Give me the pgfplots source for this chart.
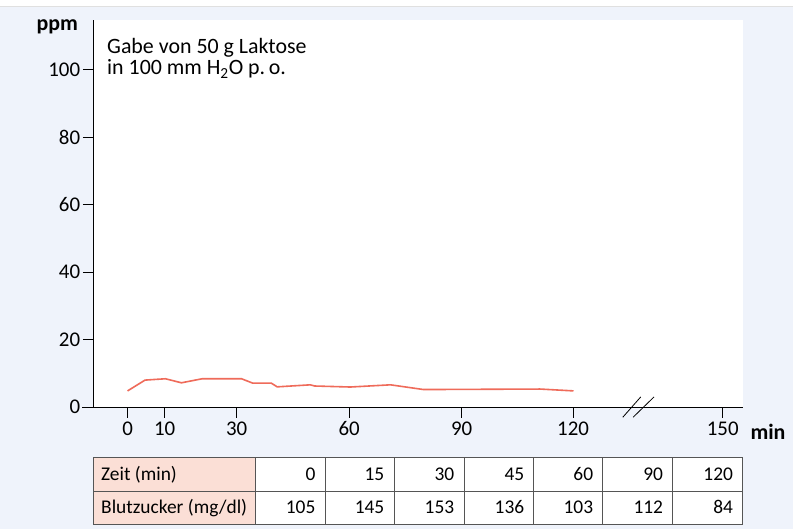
\documentclass[border=0pt]{standalone}
\usepackage{fontspec}
\setmainfont{Carlito}
\usepackage{pgfplots}
\pgfplotsset{compat=1.18}
\definecolor{bg}{HTML}{EFF3FB}
\definecolor{headpink}{HTML}{FBDFD6}
\definecolor{curve}{HTML}{EF6B5A}
\definecolor{gridc}{HTML}{555555}
\begin{document}
\begin{tikzpicture}[x=1bp,y=1bp]
\fill[white] (0,0) rectangle (793,530);
\fill[bg] (0,0) rectangle (793,523.5);
\draw[black!12, line width=0.8bp] (0,523.8) -- (793,523.8);
\begin{axis}[at={(93bp,122.5bp)}, anchor=south west, scale only axis,
  width=650bp, height=387.5bp,
  xmin=-9.23, xmax=165.66, ymin=0, ymax=114.8,
  axis background/.style={fill=white},
  axis x line*=bottom, axis y line*=left,
  x axis line style={draw=none},
  y axis line style={line width=0.9bp, black},
  xtick={0,10,29.4,59.7,90,120,160.3},
  xticklabels={0,10,30,60,90,120,150},
  ytick={0,20,40,60,80,100},
  tick align=outside, major tick length=10.5bp,
  tick style={line width=0.9bp, black},
  every tick label/.append style={font=\fontsize{21}{24}\selectfont},
  yticklabel style={inner sep=2.5bp},
  xticklabel style={inner sep=4bp},
  /pgf/number format/assume math mode=true,
  clip=false]
\addplot[curve, line width=1.6bp, mark=none] coordinates {
(0,4.8) (4.7,8.0) (10.2,8.4) (14.5,7.2) (20.1,8.4) (30.7,8.4) (33.7,7.1)
(38.7,7.1) (40.3,6.0) (49.2,6.6) (50.4,6.25) (60,5.95) (70.8,6.6)
(79.7,5.2) (111.1,5.35) (120.1,4.8)};
\end{axis}
\draw[line width=0.9bp] (81.7,122.5) -- (743,122.5);
\draw[line width=0.8bp] (623,112.3) -- (641,132.7);
\draw[line width=0.8bp] (633.3,112.3) -- (654.3,132.7);
\node[anchor=base west, inner sep=0, font=\fontsize{22}{24}\selectfont] at (106.7,476.7) {Gabe von 50 g Laktose};
\node[anchor=base west, inner sep=0, font=\fontsize{22}{24}\selectfont] at (106.7,455) {in 100 mm H\textsubscript{2}O p.\,o.};
\node[font=\bfseries\fontsize{22}{24}\selectfont, inner sep=0] at (57,503) {ppm};
\node[anchor=base west, inner sep=0, font=\bfseries\fontsize{22}{24}\selectfont] at (750.7,90) {min};
% table
\fill[headpink] (93,5) rectangle (255,72);
\fill[white] (255,5) rectangle (743,72);
\draw[gridc, line width=0.8bp] (93,5) rectangle (743,72);
\draw[gridc, line width=0.8bp] (93,38.3) -- (743,38.3);
\foreach \xx in {255,325,394,464,534,603,673} {\draw[gridc, line width=0.8bp] (\xx,5) -- (\xx,72);}
\node[anchor=base west, inner sep=0, font=\fontsize{19.5}{22}\selectfont] at (100.7,49) {Zeit (min)};
\node[anchor=base west, inner sep=0, font=\fontsize{19.5}{22}\selectfont] at (100.7,15.7) {Blutzucker (mg/dl)};
\foreach \xr/\t/\b in {325/0/105, 394/15/145, 464/30/153, 534/45/136, 603/60/103, 673/90/112, 743/120/84} {
  \node[anchor=base east, inner sep=0, font=\fontsize{19.5}{22}\selectfont] at (\xr-9.5,49) {\t};
  \node[anchor=base east, inner sep=0, font=\fontsize{19.5}{22}\selectfont] at (\xr-9.5,15.7) {\b};
}
\end{tikzpicture}
\end{document}
